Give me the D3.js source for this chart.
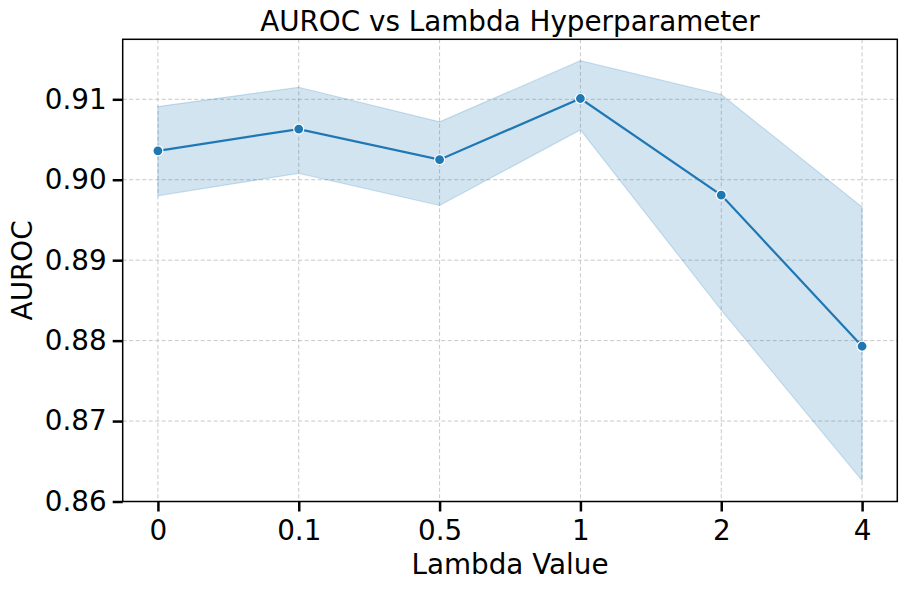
<!DOCTYPE html>
<html>
<head>
<meta charset="utf-8">
<script src="https://cdn.jsdelivr.net/npm/d3@7"></script>
<style>
  html, body { margin: 0; padding: 0; background: #fff; }
  svg text { font-family: "DejaVu Sans", sans-serif; fill: #000; }
</style>
</head>
<body>
<svg id="chart" width="906" height="589"></svg>
<script>
const categories = ["0", "0.1", "0.5", "1", "2", "4"];
const meanValues = [0.9036, 0.9063, 0.9025, 0.9101, 0.8981, 0.8793];
const upperValues = [0.9091, 0.9115, 0.9072, 0.9148, 0.9106, 0.8966];
const lowerValues = [0.8980, 0.9008, 0.8968, 0.9062, 0.8838, 0.8626];
const yTicks = [0.86, 0.87, 0.88, 0.89, 0.90, 0.91];

const svg = d3.select("#chart");
const pL = 122.7, pR = 897.3, pT = 39.3, pB = 501.5;
const color = "#1f77b4";

const x = d3.scalePoint().domain(categories).range([pL, pR]).padding(0.25);
const y = d3.scaleLinear().domain([0.86, 0.91746]).range([pB, pT]);

// grid
const grid = svg.append("g");
grid.selectAll("line.gx").data(categories).join("line")
  .attr("x1", d => x(d)).attr("x2", d => x(d))
  .attr("y1", pT).attr("y2", pB)
  .attr("stroke", "#b0b0b0").attr("stroke-opacity", 0.7)
  .attr("stroke-width", 1).attr("stroke-dasharray", "4,2.5");
grid.selectAll("line.gy").data(yTicks).join("line")
  .attr("x1", pL).attr("x2", pR)
  .attr("y1", d => y(d)).attr("y2", d => y(d))
  .attr("stroke", "#b0b0b0").attr("stroke-opacity", 0.7)
  .attr("stroke-width", 1).attr("stroke-dasharray", "4,2.5");

// band
const data = categories.map((c, i) => ({c, m: meanValues[i], lo: lowerValues[i], hi: upperValues[i]}));
const area = d3.area().x(d => x(d.c)).y0(d => y(d.lo)).y1(d => y(d.hi));
svg.append("path").datum(data).attr("d", area)
  .attr("fill", color).attr("fill-opacity", 0.2)
  .attr("stroke", color).attr("stroke-opacity", 0.2).attr("stroke-width", 1.2);

// line
const line = d3.line().x(d => x(d.c)).y(d => y(d.m));
svg.append("path").datum(data).attr("d", line)
  .attr("fill", "none").attr("stroke", color).attr("stroke-width", 2.2);
svg.selectAll("circle.pt").data(data).join("circle")
  .attr("cx", d => x(d.c)).attr("cy", d => y(d.m)).attr("r", 5)
  .attr("fill", color).attr("stroke", "#fff").attr("stroke-width", 1.2);

// axes
const xAxis = d3.axisBottom(x).tickSize(10).tickPadding(9);
const gx = svg.append("g").attr("transform", `translate(0,${pB})`).call(xAxis);
gx.select(".domain").remove();
gx.selectAll(".tick line").attr("stroke", "#000").attr("stroke-width", 2.5);
gx.selectAll(".tick text").attr("font-size", "27.8px").attr("font-family", "DejaVu Sans");

const yAxis = d3.axisLeft(y).tickValues(yTicks).tickFormat(d3.format(".2f")).tickSize(10).tickPadding(6);
const gy = svg.append("g").attr("transform", `translate(${pL},0)`).call(yAxis);
gy.select(".domain").remove();
gy.selectAll(".tick line").attr("stroke", "#000").attr("stroke-width", 2.5);
gy.selectAll(".tick text").attr("font-size", "27.8px").attr("font-family", "DejaVu Sans");

// spines
svg.append("rect").attr("x", pL).attr("y", pT)
  .attr("width", pR - pL).attr("height", pB - pT)
  .attr("fill", "none").attr("stroke", "#000").attr("stroke-width", 1.5);

// labels
svg.append("text").attr("x", (pL + pR) / 2).attr("y", 31)
  .attr("text-anchor", "middle").attr("font-size", "27.8px").text("AUROC vs Lambda Hyperparameter");
svg.append("text").attr("x", (pL + pR) / 2).attr("y", 574)
  .attr("text-anchor", "middle").attr("font-size", "27.8px").text("Lambda Value");
svg.append("text").attr("transform", `translate(32,${(pT + pB) / 2}) rotate(-90)`)
  .attr("text-anchor", "middle").attr("font-size", "27.8px").text("AUROC");
</script>
</body>
</html>
